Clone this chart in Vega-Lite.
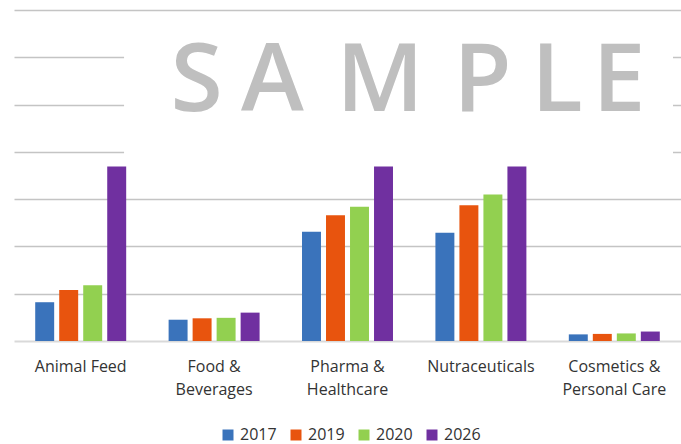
{
  "$schema": "https://vega.github.io/schema/vega-lite/v6.json",
  "width": 667,
  "height": 331,
  "autosize": {"type": "none"},
  "padding": {"left": 14, "top": 10, "right": 0, "bottom": 103},
  "background": "white",
  "config": {"view": {"stroke": null}, "font": "Open Sans"},
  "datasets": {
    "bars": [
      {"segment": "Animal Feed", "year": "2017", "value": 0.82},
      {"segment": "Animal Feed", "year": "2019", "value": 1.08},
      {"segment": "Animal Feed", "year": "2020", "value": 1.18},
      {"segment": "Animal Feed", "year": "2026", "value": 3.69},
      {"segment": "Food & Beverages", "year": "2017", "value": 0.45},
      {"segment": "Food & Beverages", "year": "2019", "value": 0.48},
      {"segment": "Food & Beverages", "year": "2020", "value": 0.49},
      {"segment": "Food & Beverages", "year": "2026", "value": 0.60},
      {"segment": "Pharma & Healthcare", "year": "2017", "value": 2.31},
      {"segment": "Pharma & Healthcare", "year": "2019", "value": 2.66},
      {"segment": "Pharma & Healthcare", "year": "2020", "value": 2.84},
      {"segment": "Pharma & Healthcare", "year": "2026", "value": 3.69},
      {"segment": "Nutraceuticals", "year": "2017", "value": 2.29},
      {"segment": "Nutraceuticals", "year": "2019", "value": 2.87},
      {"segment": "Nutraceuticals", "year": "2020", "value": 3.10},
      {"segment": "Nutraceuticals", "year": "2026", "value": 3.69},
      {"segment": "Cosmetics & Personal Care", "year": "2017", "value": 0.14},
      {"segment": "Cosmetics & Personal Care", "year": "2019", "value": 0.15},
      {"segment": "Cosmetics & Personal Care", "year": "2020", "value": 0.16},
      {"segment": "Cosmetics & Personal Care", "year": "2026", "value": 0.20}
    ],
    "watermark": [{"label": "SAMPLE"}]
  },
  "resolve": {"scale": {"x": "independent"}},
  "layer": [
    {
      "data": {"name": "bars"},
      "mark": {"type": "bar"},
      "encoding": {
        "x": {
          "field": "segment",
          "type": "nominal",
          "sort": ["Animal Feed", "Food & Beverages", "Pharma & Healthcare", "Nutraceuticals", "Cosmetics & Personal Care"],
          "scale": {"paddingInner": 0.318, "paddingOuter": 0.159},
          "axis": {
            "title": null,
            "labelAngle": 0,
            "labelFont": "Open Sans",
            "labelFontSize": 16,
            "labelColor": "#333333",
            "labelPadding": 17,
            "labelLineHeight": 23,
            "labelBaseline": "top",
            "ticks": false,
            "domain": true,
            "domainColor": "#d9d9d9",
            "domainWidth": 2,
            "labelExpr": "datum.label == 'Food & Beverages' ? ['Food &', 'Beverages'] : datum.label == 'Pharma & Healthcare' ? ['Pharma &', 'Healthcare'] : datum.label == 'Cosmetics & Personal Care' ? ['Cosmetics &', 'Personal Care'] : datum.label"
          }
        },
        "xOffset": {
          "field": "year",
          "type": "nominal",
          "scale": {"paddingInner": 0.21, "paddingOuter": 0}
        },
        "y": {
          "field": "value",
          "type": "quantitative",
          "scale": {"domain": [0, 7], "nice": false},
          "axis": {
            "title": null,
            "labels": false,
            "ticks": false,
            "domain": false,
            "values": [1, 2, 3, 4, 5, 6, 7],
            "grid": true,
            "gridColor": "#c4c4c4",
            "gridWidth": 1.3
          }
        },
        "color": {
          "field": "year",
          "type": "nominal",
          "scale": {"domain": ["2017", "2019", "2020", "2026"], "range": ["#3A73BB", "#E8540E", "#92D050", "#7030A0"]},
          "legend": {
            "title": null,
            "orient": "none",
            "direction": "horizontal",
            "legendX": 206,
            "legendY": 417,
            "padding": 0,
            "symbolType": "square",
            "symbolSize": 121,
            "symbolStrokeWidth": 0,
            "labelFont": "Open Sans",
            "labelFontSize": 16,
            "labelColor": "#333333",
            "labelOffset": 4,
            "labelLimit": 100,
            "columnPadding": 11
          }
        }
      }
    },
    {
      "data": {"name": "watermark"},
      "layer": [
        {
          "mark": {"type": "rect", "color": "white"},
          "encoding": {
            "x": {"datum": 0.165, "type": "quantitative", "scale": {"domain": [0, 1]}, "axis": null},
            "x2": {"datum": 0.988},
            "y": {"datum": 3.95, "type": "quantitative", "scale": {"domain": [0, 7], "nice": false}},
            "y2": {"datum": 6.5}
          }
        },
        {
          "mark": {"type": "text", "text": "S", "font": "Open Sans", "fontWeight": 600, "fontSize": 95, "color": "#bfbfbf", "align": "center", "baseline": "alphabetic"},
          "encoding": {
            "x": {"datum": 0.2736, "type": "quantitative", "scale": {"domain": [0, 1]}, "axis": null},
            "y": {"datum": 4.86, "type": "quantitative", "scale": {"domain": [0, 7], "nice": false}}
          }
        },
        {
          "mark": {"type": "text", "text": "A", "font": "Open Sans", "fontWeight": 600, "fontSize": 95, "color": "#bfbfbf", "align": "center", "baseline": "alphabetic"},
          "encoding": {
            "x": {"datum": 0.3876, "type": "quantitative", "scale": {"domain": [0, 1]}, "axis": null},
            "y": {"datum": 4.86, "type": "quantitative", "scale": {"domain": [0, 7], "nice": false}}
          }
        },
        {
          "mark": {"type": "text", "text": "M", "font": "Open Sans", "fontWeight": 600, "fontSize": 95, "color": "#bfbfbf", "align": "center", "baseline": "alphabetic"},
          "encoding": {
            "x": {"datum": 0.5487, "type": "quantitative", "scale": {"domain": [0, 1]}, "axis": null},
            "y": {"datum": 4.86, "type": "quantitative", "scale": {"domain": [0, 7], "nice": false}}
          }
        },
        {
          "mark": {"type": "text", "text": "P", "font": "Open Sans", "fontWeight": 600, "fontSize": 95, "color": "#bfbfbf", "align": "center", "baseline": "alphabetic"},
          "encoding": {
            "x": {"datum": 0.7024, "type": "quantitative", "scale": {"domain": [0, 1]}, "axis": null},
            "y": {"datum": 4.86, "type": "quantitative", "scale": {"domain": [0, 7], "nice": false}}
          }
        },
        {
          "mark": {"type": "text", "text": "L", "font": "Open Sans", "fontWeight": 600, "fontSize": 95, "color": "#bfbfbf", "align": "center", "baseline": "alphabetic"},
          "encoding": {
            "x": {"datum": 0.8141, "type": "quantitative", "scale": {"domain": [0, 1]}, "axis": null},
            "y": {"datum": 4.86, "type": "quantitative", "scale": {"domain": [0, 7], "nice": false}}
          }
        },
        {
          "mark": {"type": "text", "text": "E", "font": "Open Sans", "fontWeight": 600, "fontSize": 95, "color": "#bfbfbf", "align": "center", "baseline": "alphabetic"},
          "encoding": {
            "x": {"datum": 0.907, "type": "quantitative", "scale": {"domain": [0, 1]}, "axis": null},
            "y": {"datum": 4.86, "type": "quantitative", "scale": {"domain": [0, 7], "nice": false}}
          }
        }
      ]
    }
  ]
}
